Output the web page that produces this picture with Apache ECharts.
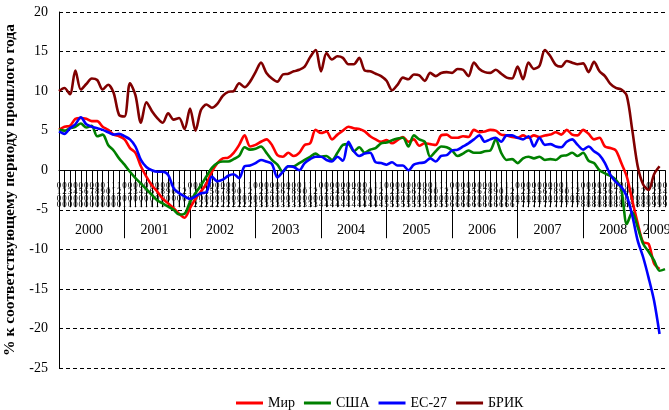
<!DOCTYPE html>
<html>
<head>
<meta charset="utf-8">
<script src="https://cdn.jsdelivr.net/npm/echarts@6/dist/echarts.min.js"></script>
<style>
  html, body { margin: 0; padding: 0; background: #fff; }
  #chart { width: 669px; height: 410px; }
</style>
</head>
<body>
<div id="chart"></div>
<script>
// подписи месяцев и лет
const monthNumbers = ['01', '02', '03', '04', '05', '06', '07', '08', '09', '10', '11', '12']
const years = ['2000', '2001', '2002', '2003', '2004', '2005', '2006', '2007', '2008', '2009']
const monthsInLast = 4 // янв-апр 2009

// % к соответствующему периоду прошлого года, помесячно с янв.2000
const mir = [
  5.1, 5.5, 5.6, 6.5, 6.6, 6.5, 6.2, 6.2, 5.5, 5.1, 4.5, 4.3,
  3.9, 2.8, 2.2, 0.5, -0.8, -1.9, -2.7, -3.6, -4.2, -4.8, -5.5, -6.0,
  -4.8, -3.6, -2.7, -1.7, -0.2, 0.9, 1.5, 1.6, 2.2, 3.2, 4.4, 3.0,
  3.2, 3.6, 3.9, 3.2, 1.9, 1.7, 2.2, 1.8, 2.2, 3.2, 3.4, 5.1,
  4.7, 4.9, 3.9, 4.5, 5.0, 5.5, 5.3, 5.2, 4.9, 4.3, 3.9, 3.6,
  3.8, 3.4, 3.8, 4.2, 3.6, 3.9, 3.1, 3.4, 3.3, 3.2, 4.4, 4.5,
  4.1, 4.1, 4.3, 4.2, 5.1, 4.8, 4.9, 5.1, 5.0, 4.5, 4.4, 4.2,
  4.1, 4.4, 4.1, 4.4, 4.2, 4.4, 4.5, 4.8, 4.5, 5.1, 4.5, 4.4,
  5.1, 4.6, 3.9, 4.1, 3.0, 2.8, 2.5, 0.9, -0.8, -3.8, -6.7, -9.1,
  -9.3, -11.8, -12.5
]
const usa = [
  5.1, 5.0, 5.3, 5.5, 5.9, 5.4, 5.6, 4.3, 4.5, 3.2, 2.5, 1.5,
  0.7, -0.2, -1.0, -1.7, -2.4, -3.1, -3.8, -4.2, -4.6, -5.0, -5.6, -5.5,
  -4.0, -2.9, -1.9, -0.8, 0.3, 0.9, 1.1, 1.1, 1.4, 1.8, 2.9, 2.6,
  2.7, 3.0, 2.2, 1.3, 0.7, -0.2, 0.5, 0.5, 0.9, 1.3, 1.7, 2.1,
  1.7, 1.8, 1.3, 2.2, 3.2, 3.3, 2.4, 2.9, 2.2, 2.6, 2.8, 3.4,
  3.5, 3.8, 4.0, 4.1, 3.0, 4.4, 3.9, 3.6, 1.7, 2.4, 3.0, 2.9,
  2.5, 1.8, 2.1, 2.5, 2.2, 2.2, 2.4, 2.5, 3.9, 2.2, 1.3, 1.4,
  0.9, 1.5, 1.7, 1.5, 1.7, 1.3, 1.4, 1.3, 1.8, 1.9, 2.2, 1.8,
  2.2, 1.2, 0.9, 0.0, -0.4, -0.7, -1.2, -2.4, -6.8, -5.3, -7.2, -9.3,
  -10.3, -11.4, -12.7, -12.5
]
const eu27 = [
  4.9, 4.6, 5.3, 5.8, 6.7, 5.8, 5.5, 5.3, 5.1, 4.8, 4.5, 4.6,
  4.3, 3.9, 3.0, 1.3, 0.4, 0.0, -0.2, -0.2, -0.6, -2.3, -2.9, -3.3,
  -3.6, -3.3, -2.9, -2.8, -0.8, -1.4, -1.2, -0.7, -0.5, -1.0, 0.5, 0.6,
  0.9, 1.3, 1.1, 0.8, -0.9, -0.2, 0.5, 0.4, 0.0, 0.9, 1.4, 1.7,
  1.7, 1.3, 1.1, 1.7, 1.2, 3.6, 2.4, 1.8, 2.1, 2.2, 1.0, 0.9,
  0.7, 1.0, 0.6, 0.6, 0.0, 0.7, 0.9, 1.0, 1.5, 1.1, 1.8, 1.9,
  2.5, 2.6, 3.0, 3.4, 3.9, 4.4, 3.6, 3.9, 4.1, 3.6, 4.4, 4.4,
  4.1, 3.9, 4.3, 3.0, 4.1, 3.2, 3.3, 3.0, 2.9, 3.6, 3.9, 3.2,
  2.6, 3.0, 2.4, 1.9, 0.9, -0.6, -1.5, -2.1, -3.3, -5.7, -8.9, -11.0,
  -13.6, -16.5, -20.7
]
const brik = [
  10.0, 10.4, 9.6, 12.6, 10.2, 10.9, 11.6, 11.4, 10.2, 10.8, 9.8, 7.0,
  6.8, 11.0, 9.5, 6.0, 8.6, 7.5, 6.6, 6.0, 7.2, 6.4, 6.6, 5.2,
  7.8, 5.0, 7.6, 8.3, 7.9, 8.4, 9.4, 9.9, 10.0, 11.0, 10.5, 11.2,
  12.4, 13.6, 12.3, 11.6, 11.2, 12.1, 12.2, 12.5, 12.7, 13.1, 14.3, 15.2,
  12.5, 14.8, 14.0, 14.4, 14.2, 13.4, 13.4, 14.2, 12.6, 12.5, 12.2, 11.9,
  11.3, 10.1, 10.8, 11.7, 11.5, 12.1, 12.0, 11.3, 12.3, 11.9, 12.3, 12.4,
  12.3, 12.8, 12.7, 11.9, 13.6, 12.8, 12.4, 12.3, 12.7, 12.2, 11.7, 11.6,
  13.1, 11.5, 13.6, 12.8, 13.2, 15.2, 14.4, 13.3, 13.1, 13.8, 13.6, 13.4,
  13.5, 12.4, 13.7, 12.5, 11.9, 10.9, 10.4, 10.2, 9.4, 5.1, 0.5, -1.8,
  -2.5, -0.5, 0.5
]

// категории месяцев: "01.00" ...
const months = []
years.forEach((y, yi) => {
  const n = yi === years.length - 1 ? monthsInLast : 12
  for (let m = 0; m < n; m++) months.push(monthNumbers[m] + '.' + y.slice(2))
})

// границы лет и середины лет по индексу месяца
const yearStarts = years.map((y, i) => i * 12)
const yearMids = years.map((y, i) => i * 12 + ((i === years.length - 1 ? monthsInLast : 12) - 1) / 2)

const font = 'Liberation Serif'
const yMin = -25
const yMax = 20
const gridTop = 12
const gridBottom = 42
const chartHeight = 410
// ось категорий проходит по нулю: сдвиг от нижнего края сетки
const zeroOffset = -(chartHeight - gridTop - gridBottom) * (0 - yMin) / (yMax - yMin)

const chart = echarts.init(document.getElementById('chart'))

chart.setOption({
  animation: false,
  color: ['#ff0000', '#008000', '#0000ff', '#800000'],
  grid: {
    left: 59,
    right: 4,
    top: gridTop,
    bottom: gridBottom,
    containLabel: false,
    outerBoundsMode: 'none'
  },
  legend: {
    data: ['Мир', 'США', 'ЕС-27', 'БРИК'],
    left: 231,
    top: 391,
    icon: 'rect',
    itemWidth: 27,
    itemHeight: 3,
    itemGap: 9,
    textStyle: { fontFamily: font, fontSize: 14, color: '#000' }
  },
  xAxis: [
    {
      type: 'category',
      data: months,
      boundaryGap: false,
      position: 'bottom',
      offset: zeroOffset,
      axisLine: { onZero: false, lineStyle: { color: '#000', width: 1 } },
      axisTick: { interval: 0, length: 37, lineStyle: { color: '#000' } },
      axisLabel: {
        interval: 0,
        margin: 12,
        fontFamily: font,
        fontSize: 9,
        lineHeight: 6.5,
        color: '#000',
        hideOverlap: false,
        // подписи месяцев в столбик (цифры друг под другом)
        formatter: (v) => v.replace('.', '').split('').join('\n')
      },
      splitLine: { show: false }
    },
    {
      type: 'value',
      min: 0,
      max: months.length - 1,
      position: 'bottom',
      offset: zeroOffset,
      axisLine: { show: false, onZero: false },
      axisTick: { show: true, customValues: yearStarts, length: 68, lineStyle: { color: '#000' } },
      axisLabel: {
        customValues: yearMids,
        margin: 53,
        fontFamily: font,
        fontSize: 14,
        color: '#000',
        formatter: (v) => years[Math.round((v - 5.5) / 12)]
      },
      splitLine: { show: false }
    }
  ],
  yAxis: {
    type: 'value',
    min: yMin,
    max: yMax,
    interval: 5,
    name: '% к соответствующему периоду прошлого года',
    nameLocation: 'middle',
    nameGap: 38,
    nameTextStyle: { fontFamily: font, fontSize: 15.5, fontWeight: 'bold', color: '#000' },
    axisLine: { show: true, lineStyle: { color: '#000' } },
    axisTick: { show: false },
    axisLabel: { margin: 11, fontFamily: font, fontSize: 14, color: '#000' },
    splitLine: { lineStyle: { color: '#000', type: [4, 3], width: 1 } }
  },
  series: [
    { name: 'Мир', type: 'line', data: mir },
    { name: 'США', type: 'line', data: usa },
    { name: 'ЕС-27', type: 'line', data: eu27 },
    { name: 'БРИК', type: 'line', data: brik }
  ].map((s) => Object.assign(s, {
    symbol: 'none',
    smooth: 0.3,
    lineStyle: { width: 2.6 }
  }))
})
</script>
</body>
</html>
